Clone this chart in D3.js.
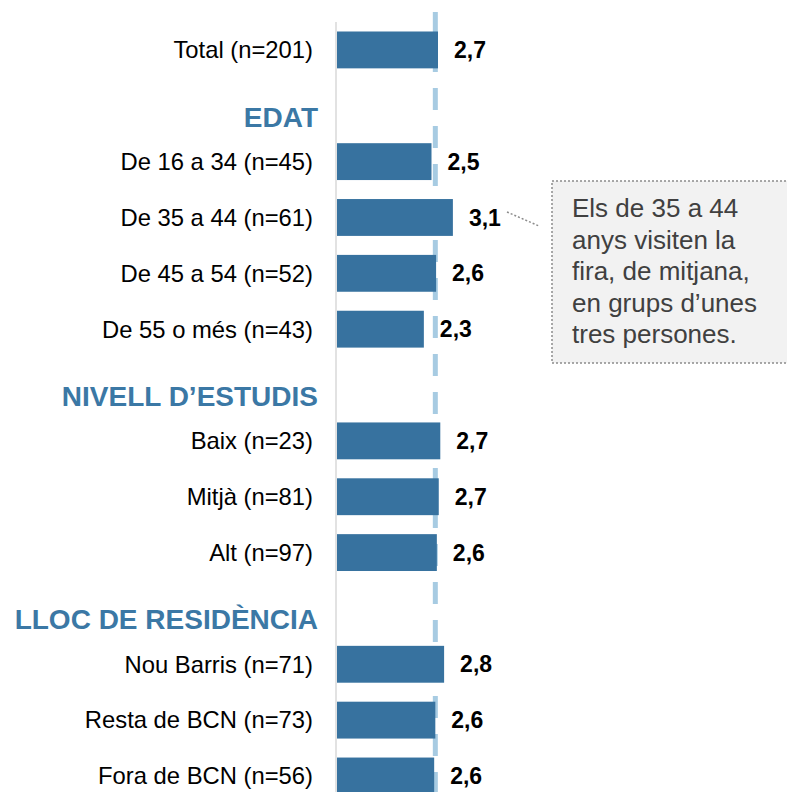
<!DOCTYPE html>
<html>
<head>
<meta charset="utf-8">
<script src="https://cdn.jsdelivr.net/npm/d3@7"></script>
<style>
  body { margin: 0; background: #fff; }
  svg { display: block; font-family: "Liberation Sans", Arial, sans-serif; }
</style>
</head>
<body>
<div id="chart"></div>
<script>
// Rows from top to bottom; headers have no value
const rows = [
  "Total (n=201)",
  "EDAT",
  "De 16 a 34 (n=45)",
  "De 35 a 44 (n=61)",
  "De 45 a 54 (n=52)",
  "De 55 o més (n=43)",
  "NIVELL D’ESTUDIS",
  "Baix (n=23)",
  "Mitjà (n=81)",
  "Alt (n=97)",
  "LLOC DE RESIDÈNCIA",
  "Nou Barris (n=71)",
  "Resta de BCN (n=73)",
  "Fora de BCN (n=56)"
];
const headers = ["EDAT", "NIVELL D’ESTUDIS", "LLOC DE RESIDÈNCIA"];
const values = [2.67, null, 2.5, 3.06, 2.62, 2.3, null, 2.73, 2.69, 2.64, null, 2.83, 2.6, 2.57];
const meanValue = 2.6;
const noteLines = ["Els de 35 a 44", "anys visiten la", "fira, de mitjana,", "en grups d’unes", "tres persones."];

const width = 787;
const height = 792;

const svg = d3.select("#chart")
  .append("svg")
  .attr("width", width)
  .attr("height", height);

const data = rows.map((r, i) => ({ label: r, value: values[i], header: headers.includes(r) }));

// Scales
const x = d3.scaleLinear().domain([0, 5]).range([336, 336 + 5 * 38.2]);
const y = d3.scaleBand()
  .domain(rows)
  .range([22, 22 + rows.length * 55.85])
  .paddingInner(0.34)
  .paddingOuter(0.17);

const fmt = d3.format(".1f");

// Mean reference line (behind bars)
svg.append("line")
  .attr("x1", x(meanValue))
  .attr("x2", x(meanValue))
  .attr("y1", 12)
  .attr("y2", height)
  .attr("stroke", "#a7cbe2")
  .attr("stroke-width", 5)
  .attr("stroke-dasharray", "22,16");

// Vertical axis line
svg.append("line")
  .attr("x1", x(0))
  .attr("x2", x(0))
  .attr("y1", 22)
  .attr("y2", height)
  .attr("stroke", "#d9d9d9")
  .attr("stroke-width", 1.5);

const barData = data.filter(d => !d.header);

// Bars
svg.append("g")
  .selectAll("rect")
  .data(barData)
  .join("rect")
  .attr("x", x(0) + 1)
  .attr("y", d => y(d.label))
  .attr("width", d => x(d.value) - x(0) - 1)
  .attr("height", y.bandwidth())
  .attr("fill", "#37729f");

// Category labels
svg.append("g")
  .selectAll("text")
  .data(barData)
  .join("text")
  .attr("x", 313)
  .attr("y", d => y(d.label) + y.bandwidth() / 2)
  .attr("dy", "0.35em")
  .attr("text-anchor", "end")
  .style("font-size", "23.8px")
  .attr("fill", "#000")
  .text(d => d.label);

// Group headers
svg.append("g")
  .selectAll("text")
  .data(data.filter(d => d.header))
  .join("text")
  .attr("x", 318)
  .attr("y", d => y(d.label) + y.bandwidth() / 2 + 11)
  .attr("dy", "0.35em")
  .attr("text-anchor", "end")
  .style("font-size", "28px")
  .style("font-weight", "bold")
  .attr("fill", "#3b78a5")
  .text(d => d.label);

// Value labels
svg.append("g")
  .selectAll("text")
  .data(barData)
  .join("text")
  .attr("x", d => x(d.value) + 16)
  .attr("y", d => y(d.label) + y.bandwidth() / 2)
  .attr("dy", "0.35em")
  .style("font-size", "23px")
  .style("font-weight", "bold")
  .attr("fill", "#000")
  .text(d => fmt(d.value).replace(".", ","));

// Callout for the 35-44 group
svg.append("line")
  .attr("x1", 507)
  .attr("y1", 212)
  .attr("x2", 539)
  .attr("y2", 226)
  .attr("stroke", "#8c8c8c")
  .attr("stroke-width", 1.5)
  .attr("stroke-dasharray", "2,2");

svg.append("rect")
  .attr("x", 552)
  .attr("y", 181)
  .attr("width", 250)
  .attr("height", 182)
  .attr("fill", "#f2f2f2")
  .attr("stroke", "#8c8c8c")
  .attr("stroke-width", 1.5)
  .attr("stroke-dasharray", "2,2");

svg.append("g")
  .selectAll("text")
  .data(noteLines)
  .join("text")
  .attr("x", 572)
  .attr("y", (d, i) => 217 + i * 31.5)
  .style("font-size", "26px")
  .attr("fill", "#404040")
  .text(d => d);
</script>
</body>
</html>
